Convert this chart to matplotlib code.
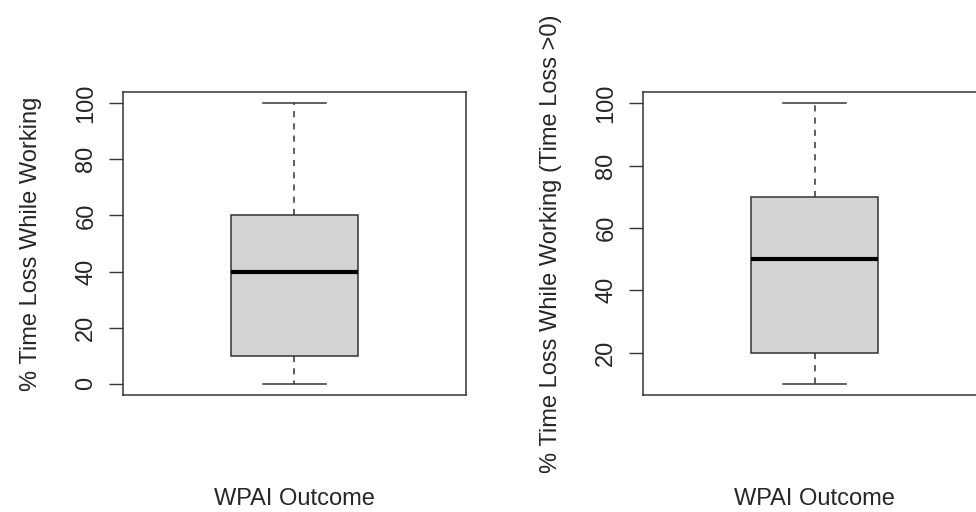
import matplotlib.pyplot as plt

plt.rcParams['font.family'] = ['Liberation Sans', 'DejaVu Sans']

# five-number summaries
labels = ["% Time Loss While Working", "% Time Loss While Working (Time Loss >0)"]
whislo = [0, 10]
q1 = [10, 20]
med = [40, 50]
q3 = [60, 70]
whishi = [100, 100]
yticks = [[0, 20, 40, 60, 80, 100], [20, 40, 60, 80, 100]]
xlabel = "WPAI Outcome"

fig = plt.figure(figsize=(9.76, 5.12), dpi=100)
lefts = [123 / 976, 643 / 976]
w = 343 / 976
bottom = 1 - 395 / 512
h = 303 / 512
edge = '#333333'
txt = '#262626'
fs = 17

for i in range(2):
    ax = fig.add_axes([lefts[i], bottom, w, h])
    stats = [dict(whislo=whislo[i], q1=q1[i], med=med[i], q3=q3[i],
                  whishi=whishi[i], fliers=[])]
    ax.bxp(stats, positions=[1], widths=0.4, patch_artist=True,
           boxprops=dict(facecolor='#d3d3d3', edgecolor=edge, linewidth=1.1),
           medianprops=dict(color='black', linewidth=3, solid_capstyle='butt'),
           whiskerprops=dict(color=edge, linewidth=1.1, linestyle=(0, (4, 4))),
           capprops=dict(color=edge, linewidth=1.1), capwidths=0.2)
    lo, hi = whislo[i], whishi[i]
    pad = 0.04 * (hi - lo)
    ax.set_ylim(lo - pad, hi + pad)
    ax.set_xlim(0.46, 1.54)
    ax.set_xticks([])
    ax.set_yticks(yticks[i])
    ax.set_yticklabels([str(t) for t in yticks[i]], rotation=90, va='center',
                       fontsize=fs, color=txt)
    ax.tick_params(axis='y', length=10, width=1, color=edge, pad=8.5)
    for s in ax.spines.values():
        s.set_color(edge)
        s.set_linewidth(1.1)
    ax.set_ylabel(labels[i], fontsize=fs, color=txt)
    ax.yaxis.label.set_va('center')
    ax.yaxis.set_label_coords(-0.268, 0.5)
    ax.text(0.5, -0.343, xlabel, transform=ax.transAxes, ha='center',
            va='center', fontsize=fs, color=txt)

fig.savefig('out.png', dpi=100)
